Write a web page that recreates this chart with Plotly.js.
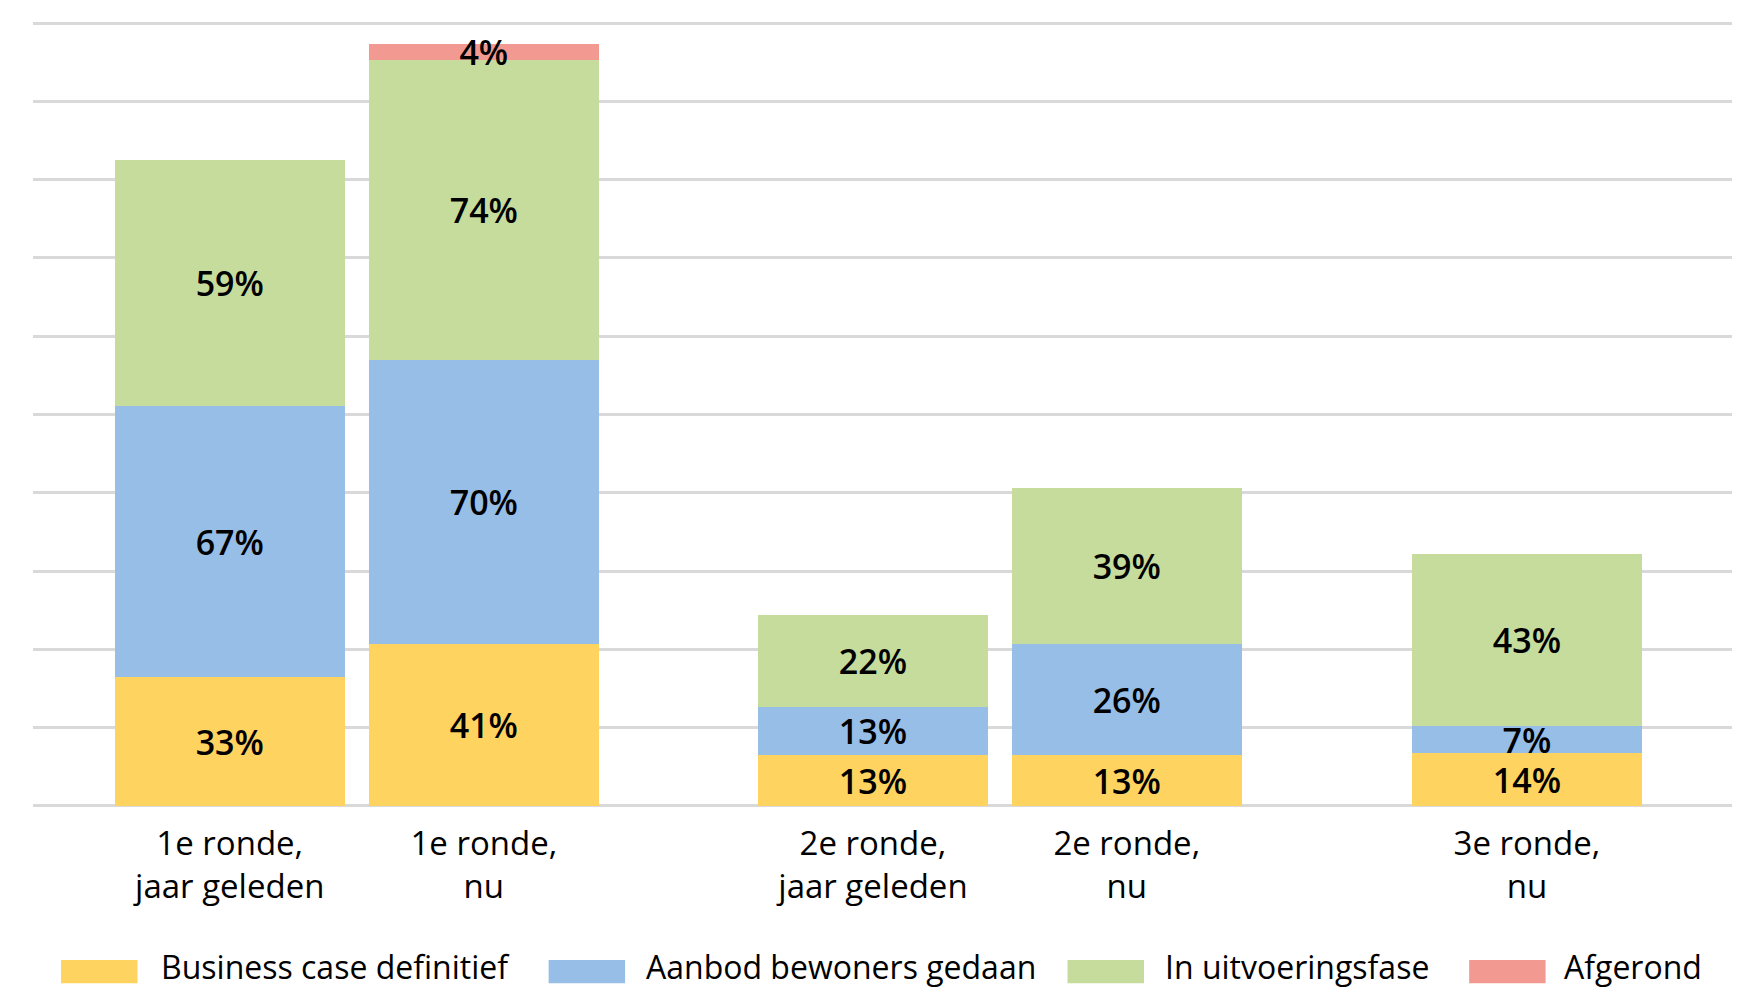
<!DOCTYPE html>
<html>
<head>
<meta charset="utf-8">
<script src="https://cdn.plot.ly/plotly-3.0.1.min.js"></script>
<style>
  html, body { margin: 0; padding: 0; background: #ffffff; }
  #chart { width: 1749px; height: 990px; }
</style>
</head>
<body>
<div id="chart"></div>
<script>
// ---- data ----
const categories = ["1e ronde,<br>jaar geleden", "1e ronde,<br>nu", "2e ronde,<br>jaar geleden", "2e ronde,<br>nu", "3e ronde,<br>nu"];
const seriesNames = ["Business case definitief", "Aanbod bewoners gedaan", "In uitvoeringsfase", "Afgerond"];

// bar segment heights as drawn (gridline = 20)
const businessCase = [32.9, 41.3, 12.9, 12.9, 13.5];
const aanbod       = [69.3, 72.6, 12.3, 28.6, 6.9];
const uitvoering   = [62.8, 76.6, 23.5, 39.6, 43.9];
const afgerond     = [null, 4.1, null, null, null];

// printed labels
const businessCaseLabels = ["33%", "41%", "13%", "13%", "14%"];
const aanbodLabels       = ["67%", "70%", "13%", "26%", "7%"];
const uitvoeringLabels   = ["59%", "74%", "22%", "39%", "43%"];
const afgerondLabels     = ["", "4%", "", "", ""];

// ---- layout / styling ----
const slotPositions = [0.7744, 1.7744, 3.306, 4.305, 5.880];
const barWidth = 0.906;
const colors = ["#FFD35F", "#97BEE6", "#C6DC9C", "#F29A92"];
const FONT = "Open Sans, Noto Sans, sans-serif";

const values = [businessCase, aanbod, uitvoering, afgerond];
const labels = [businessCaseLabels, aanbodLabels, uitvoeringLabels, afgerondLabels];

const traces = values.map((v, i) => ({
  type: "bar",
  name: seriesNames[i],
  x: slotPositions,
  y: v,
  width: barWidth,
  text: labels[i],
  texttemplate: "%{text}",
  textposition: "inside",
  insidetextanchor: "middle",
  constraintext: "none",
  textangle: 0,
  cliponaxis: false,
  textfont: { family: FONT, size: 34, color: "#000000", weight: 600 },
  marker: { color: colors[i], line: { width: 0 } },
  hoverinfo: "skip",
  showlegend: false
}));

// custom legend (wide swatches like the reference)
const legendSwatchX = [0.0165, 0.3035, 0.6089, 0.8453];
const legendTextX   = [0.0741, 0.3599, 0.6652, 0.8997];
const shapes = [];
const annotations = [];
seriesNames.forEach((name, i) => {
  shapes.push({
    type: "rect", xref: "paper", yref: "paper",
    x0: legendSwatchX[i], x1: legendSwatchX[i] + 0.0450,
    y0: -0.2245, y1: -0.1950,
    fillcolor: colors[i], line: { width: 0 }
  });
  annotations.push({
    xref: "paper", yref: "paper",
    x: legendTextX[i], y: -0.2331,
    xanchor: "left", yanchor: "bottom",
    text: name, showarrow: false,
    font: { family: FONT, size: 32, color: "#000000" }
  });
});

const layout = {
  width: 1749,
  height: 990,
  margin: { l: 33, r: 17, t: 22, b: 183 },
  paper_bgcolor: "#ffffff",
  plot_bgcolor: "#ffffff",
  barmode: "stack",
  font: { family: FONT, color: "#000000" },
  xaxis: {
    range: [0, 6.687],
    tickmode: "array",
    tickvals: slotPositions,
    ticktext: categories,
    showgrid: false,
    zeroline: false,
    showline: false,
    ticks: "",
    ticklabelstandoff: 14,
    tickfont: { family: FONT, size: 33, color: "#000000" },
    fixedrange: true
  },
  yaxis: {
    range: [-0.26, 200.26],
    tickmode: "linear",
    tick0: 0,
    dtick: 20,
    showticklabels: false,
    showgrid: true,
    gridcolor: "#D9D9D9",
    gridwidth: 3,
    zeroline: false,
    showline: false,
    ticks: "",
    fixedrange: true
  },
  shapes: shapes,
  annotations: annotations,
  showlegend: false
};

Plotly.newPlot("chart", traces, layout, { displayModeBar: false, staticPlot: true });
</script>
</body>
</html>
